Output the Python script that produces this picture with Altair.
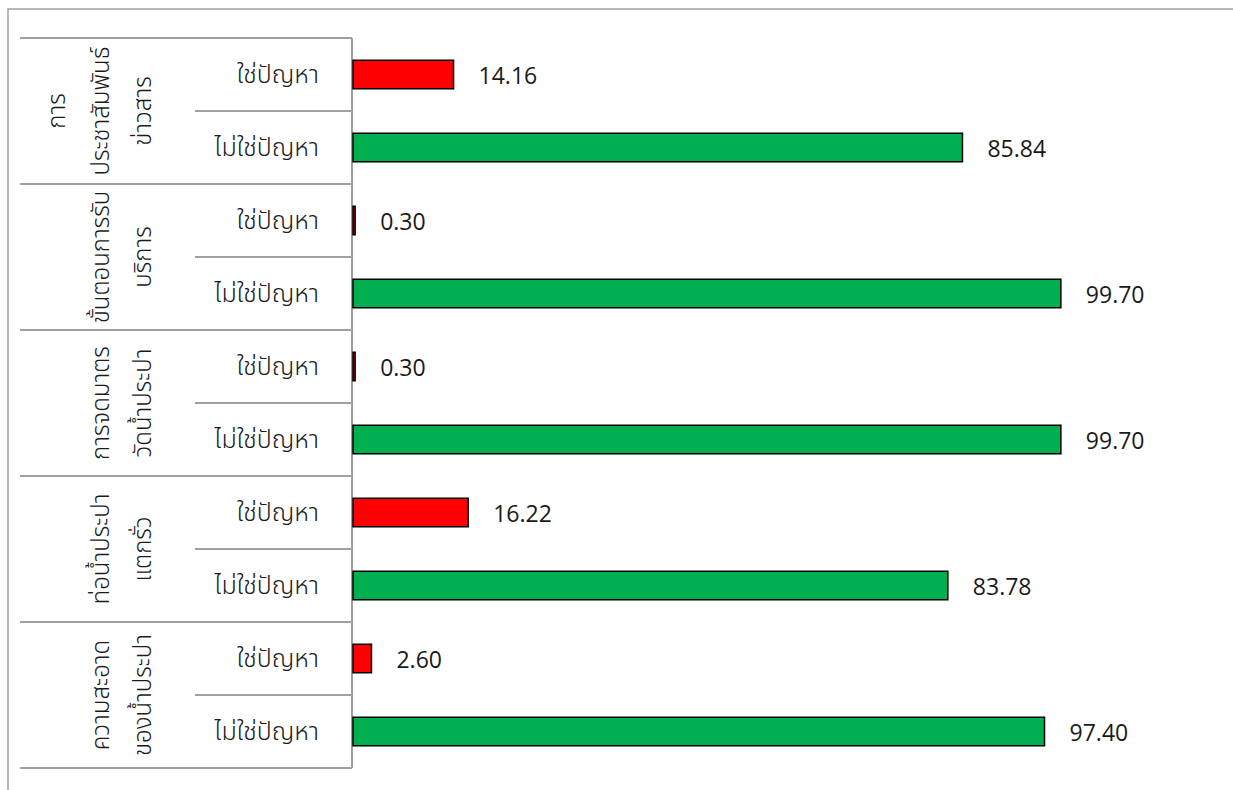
import altair as alt
import pandas as pd

# Survey topics (top to bottom) and the share answering "problem" / "not a problem"
groups = [
    "การประชาสัมพันธ์ข่าวสาร",
    "ขั้นตอนการรับบริการ",
    "การจดมาตรวัดน้ำประปา",
    "ท่อน้ำประปาแตกรั่ว",
    "ความสะอาดของน้ำประปา",
]
group_lines = [
    ["การ", "ประชาสัมพันธ์", "ข่าวสาร"],
    ["ขั้นตอนการรับ", "บริการ"],
    ["การจดมาตร", "วัดน้ำประปา"],
    ["ท่อน้ำประปา", "แตกรั่ว"],
    ["ความสะอาด", "ของน้ำประปา"],
]
answers = ["ใช่ปัญหา", "ไม่ใช่ปัญหา"]
is_problem = [14.16, 0.30, 0.30, 16.22, 2.60]
not_problem = [85.84, 99.70, 99.70, 83.78, 97.40]

rows = []
for i, g in enumerate(groups):
    for j, a in enumerate(answers):
        rows.append({
            "row": f"{i}|{a}",
            "group": g,
            "answer": a,
            "value": is_problem[i] if j == 0 else not_problem[i],
            "first": j == 0,
        })
df = pd.DataFrame(rows)
order = list(df["row"])

# one record per wrapped line of each topic name; k counts from the last line
line_rows = []
for i, lines in enumerate(group_lines):
    n = len(lines)
    for j, t in enumerate(lines):
        line_rows.append({"row": f"{i}|{answers[1]}", "text": t, "k": n - 1 - j})
lines_df = pd.DataFrame(line_rows)

GRID = "#a0a0a0"
INK = "#1a1a1a"
THAI = "Noto Sans Thai, Noto Sans Thai UI, Loma, Garuda, sans-serif"
W, H = 710, 730


def yenc(band=0.5):
    return alt.Y("row:N", sort=order, bandPosition=band,
                 scale=alt.Scale(domain=order, paddingInner=0, paddingOuter=0),
                 axis=None)


base = alt.Chart(df)

bars = base.mark_bar(size=28.5, stroke="black", strokeWidth=1.5).encode(
    x=alt.X("value:Q", scale=alt.Scale(domain=[0, 100]), axis=None),
    y=yenc(),
    color=alt.Color("answer:N", scale=alt.Scale(domain=answers, range=["#ff0000", "#00b050"]),
                    legend=None),
)

values = base.mark_text(align="left", baseline="middle", dx=25, dy=2, fontSize=23,
                        font="Open Sans", color=INK).encode(
    x="value:Q",
    y=yenc(),
    text=alt.Text("value:Q", format=".2f"),
)

answer_labels = base.mark_text(align="right", baseline="middle", fontSize=25,
                               font=THAI, fontWeight=300, color=INK).encode(
    x=alt.value(-34),
    y=yenc(),
    text="answer:N",
)

# topic names, rotated, right-aligned block of wrapped lines
line_x = {0: -209, 1: -251, 2: -295}
group_labels = [
    alt.Chart(lines_df).transform_filter(f"datum.k == {k}").mark_text(
        align="center", baseline="middle", angle=270, fontSize=24,
        font=THAI, fontWeight=300, color=INK).encode(
        x=alt.value(xv),
        y=yenc(0),
        text="text:N",
    )
    for k, xv in line_x.items()
]

group_rules = base.transform_filter("datum.first").mark_rule(
    color=GRID, strokeWidth=2).encode(
    x=alt.value(-333), x2=alt.value(-1), y=yenc(0))

bottom_rule = base.transform_filter(f"datum.row == '{order[-1]}'").mark_rule(
    color=GRID, strokeWidth=2).encode(
    x=alt.value(-333), x2=alt.value(-1), y=yenc(1))

sub_rules = base.transform_filter("!datum.first").mark_rule(
    color=GRID, strokeWidth=2).encode(
    x=alt.value(-158), x2=alt.value(-1), y=yenc(0))

axis_line = base.mark_rule(color=GRID, strokeWidth=2).encode(
    x=alt.value(-1), y=alt.value(0), y2=alt.value(H))

frame = alt.Chart(pd.DataFrame({"k": [0]})).mark_rect(
    fill=None, stroke=GRID, strokeWidth=1.5).encode(
    x=alt.value(-345), x2=alt.value(890), y=alt.value(-29), y2=alt.value(H + 40))

chart = alt.layer(
    frame, group_rules, bottom_rule, sub_rules, axis_line,
    bars, values, answer_labels, *group_labels,
).properties(
    width=W, height=H,
    autosize=alt.AutoSizeParams(type="none"),
    padding={"left": 353, "top": 38, "right": 170, "bottom": 22},
    background="white",
).configure_view(stroke=None)

chart.save("out.html", embed_options={"renderer": "svg", "actions": False})
